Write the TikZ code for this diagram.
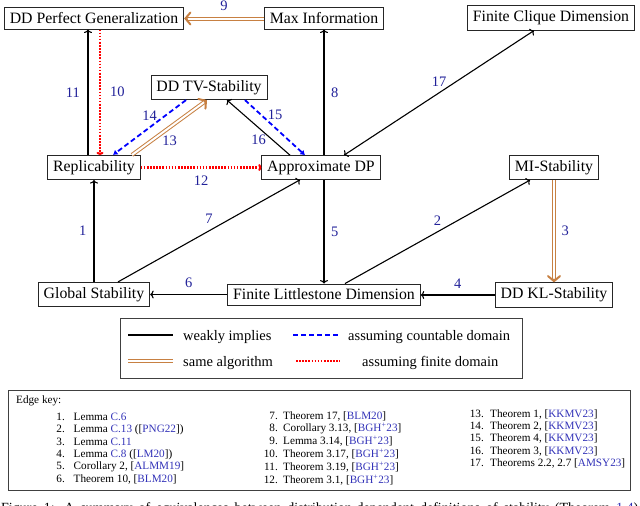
\documentclass[tikz,border=0pt]{standalone}
\usepackage{fontspec}
\setmainfont{Liberation Serif}
\usetikzlibrary{arrows.meta,calc}
\definecolor{lblue}{rgb}{0.13,0.13,0.6}
\definecolor{cblue}{rgb}{0.2,0.2,0.72}
\definecolor{tanc}{rgb}{0.78,0.5,0.26}
\newcommand{\cb}[1]{\textcolor{cblue}{#1}}
\begin{document}
\begin{tikzpicture}[x=1pt,y=-1pt,
  box/.style={draw=black!85, line width=0.8pt, inner xsep=5.5pt, inner ysep=5pt, font=\fontsize{15.8}{18}\selectfont},
  lbl/.style={inner sep=0pt, text=lblue, font=\fontsize{14.5}{16}\selectfont},
  imp/.style={line width=1.1pt, -{To[length=3.5pt,width=8pt]}},
  bimp/.style={line width=1.1pt, {To[length=3.5pt,width=8pt]}-{To[length=3.5pt,width=8pt]}},
  samealg/.style={draw=tanc, double=white, line width=1pt, double distance=2pt},
  samearr/.style={samealg, shorten >=1.5pt},
  brtip/.style={draw=tanc, line width=2pt, line cap=round, -{Straight Barb[length=5pt,width=12pt,line cap=round]}},
  cntbl/.style={draw=blue, line width=1.8pt, dash pattern=on 5pt off 3pt},
  cntarr/.style={cntbl, -{Latex[length=4.5pt,width=6pt]}},
  fin/.style={draw=red, line width=2.1pt, dash pattern=on 1.6pt off 1.5pt},
  finarr/.style={fin, -{To[length=3pt,width=7pt]}},
  legtxt/.style={inner sep=0pt, anchor=base west, font=\fontsize{14.5}{16}\selectfont},
  keyf/.style={inner sep=0pt, font=\fontsize{11.2}{12}\selectfont}
]
\useasboundingbox (0,0) rectangle (640,506);

% nodes
\node[box] (ddpg) at (94,18.5) {DD Perfect Generalization};
\node[box] (mxi) at (324,18.5) {Max Information};
\node[box] (fcd) at (551,18) {Finite Clique Dimension};
\node[box] (tv) at (209,87.5) {DD TV-Stability};
\node[box] (rep) at (94,167.5) {Replicability};
\node[box] (apdp) at (321,167.5) {Approximate DP};
\node[box] (mi) at (554,167.5) {MI-Stability};
\node[box] (gs) at (94,294.5) {Global Stability};
\node[box] (fld) at (324,294.5) {Finite Littlestone Dimension};
\node[box] (kl) at (554,295) {DD KL-Stability};

% edges
\draw[imp] (gs.north) -- (rep.south) node[lbl, midway, left=7pt] {1};
\draw[imp] ([xshift=21pt]fld.north) -- ([xshift=-24pt]mi.south) node[lbl, midway, above=6pt] {2};
\draw[samearr] (mi.south) -- (kl.north) node[lbl, midway, right=7pt] {3};
\draw[brtip] ($(kl.north)!3pt!(mi.south)$) -- (kl.north);
\draw[imp] (kl.west) -- (kl.west -| fld.east) node[lbl, midway, above=6pt] {4};
\draw[imp] (apdp.south -| fld.north) -- (fld.north) node[lbl, midway, right=6.5pt] {5};
\draw[imp] (fld.west) -- (fld.west -| gs.east) node[lbl, midway, above=6pt] {6};
\draw[imp] ([xshift=24pt]gs.north) -- ([xshift=-21pt]apdp.south) node[lbl, midway, above=7pt] {7};
\draw[imp] (apdp.north -| mxi.south) -- (mxi.south) node[lbl, midway, right=6.5pt] {8};
\draw[samearr] (mxi.west) -- (ddpg.east) node[lbl, midway, above=7pt] {9};
\draw[brtip] ($(ddpg.east)!3pt!(mxi.west)$) -- (ddpg.east);
\draw[finarr] ([xshift=6pt]ddpg.south) -- ([xshift=6pt]rep.north) node[lbl, midway, right=9pt] {10};
\draw[imp] ([xshift=-6pt]rep.north) -- ([xshift=-6pt]ddpg.south) node[lbl, midway, left=7.5pt] {11};
\draw[finarr] (rep.east) -- (apdp.west) node[lbl, midway, below=7pt] {12};
\draw[samearr] ([xshift=38pt]rep.north) -- ([xshift=-2pt]tv.south) node[lbl, midway, below=7.5pt] {13};
\draw[brtip] ($([xshift=-2pt]tv.south)!3pt!([xshift=38pt]rep.north)$) -- ([xshift=-2pt]tv.south);
\draw[cntarr] ([xshift=-23pt]tv.south) -- ([xshift=19pt]rep.north) node[lbl, midway, above=6pt] {14};
\draw[cntarr] ([xshift=36pt]tv.south) -- ([xshift=-16pt]apdp.north) node[lbl, midway, above=7.5pt] {15};
\draw[imp] ([xshift=-31pt]apdp.north) -- ([xshift=18pt]tv.south) node[lbl, midway, below=6.5pt] {16};
\draw[bimp] ([xshift=-17pt]fcd.south) -- ([xshift=23pt]apdp.north) node[lbl, midway, above=6pt] {17};

% legend
\node[draw=black!75, line width=0.8pt, minimum width=402pt, minimum height=60pt, inner sep=0pt] (leg) at (321,348) {};
\coordinate (l1a) at (128,335); \coordinate (l1b) at (173,335);
\coordinate (l2a) at (293,335); \coordinate (l2b) at (339,335);
\coordinate (l3a) at (128,361); \coordinate (l3b) at (173,361);
\coordinate (l4a) at (296,361); \coordinate (l4b) at (340,361);
\draw[line width=1.1pt] (l1a) -- (l1b);
\draw[cntbl] (l2a) -- (l2b);
\draw[samealg] (l3a) -- (l3b);
\draw[fin] (l4a) -- (l4b);
\node[legtxt] (t1) at (183,340) {weakly implies};
\node[legtxt] (t2) at (348,340) {assuming countable domain};
\node[legtxt] (t3) at (183,366) {same algorithm};
\node[legtxt] (t4) at (362,366) {assuming finite domain};

% edge key
\node[draw=black!75, line width=0.8pt, minimum width=622pt, minimum height=100pt, inner sep=0pt] (key) at (319,440) {};
\node[keyf, anchor=base west] (keyh) at (16,403.5) {Edge key:};
\foreach \n/\t [count=\i] in {1/{Lemma \cb{C.6}}, 2/{Lemma \cb{C.13} ([\cb{PNG22}])}, 3/{Lemma \cb{C.11}}, 4/{Lemma \cb{C.8} ([\cb{LM20}])}, 5/{Corollary 2, [\cb{ALMM19}]}, 6/{Theorem 10, [\cb{BLM20}]}}{
  \node[keyf, anchor=base east] (kn\n) at (65,{420.5+(\i-1)*12.3}) {\n.};
  \node[keyf, anchor=base west] (kt\n) at (73.5,{420.5+(\i-1)*12.3}) {\t};
}
\foreach \n/\t [count=\i] in {7/{Theorem 17, [\cb{BLM20}]}, 8/{Corollary 3.13, [\cb{BGH\textsuperscript{+}23}]}, 9/{Lemma 3.14, [\cb{BGH\textsuperscript{+}23}]}, 10/{Theorem 3.17, [\cb{BGH\textsuperscript{+}23}]}, 11/{Theorem 3.19, [\cb{BGH\textsuperscript{+}23}]}, 12/{Theorem 3.1, [\cb{BGH\textsuperscript{+}23}]}}{
  \node[keyf, anchor=base east] (kn\n) at (278,{419+(\i-1)*12.8}) {\n.};
  \node[keyf, anchor=base west] (kt\n) at (283,{419+(\i-1)*12.8}) {\t};
}
\foreach \n/\t [count=\i] in {13/{Theorem 1, [\cb{KKMV23}]}, 14/{Theorem 2, [\cb{KKMV23}]}, 15/{Theorem 4, [\cb{KKMV23}]}, 16/{Theorem 3, [\cb{KKMV23}]}, 17/{Theorems 2.2, 2.7 [\cb{AMSY23}]}}{
  \node[keyf, anchor=base east] (kn\n) at (484,{417.5+(\i-1)*12.2}) {\n.};
  \node[keyf, anchor=base west] (kt\n) at (490,{417.5+(\i-1)*12.2}) {\t};
}

% caption (cut off at the bottom edge, as in the reference)
\begin{scope}
\clip (0,0) rectangle (640,506);
\node[inner sep=0pt, anchor=base west, font=\fontsize{14}{16}\selectfont] (cap) at (1,512) {\makebox[637pt][s]{Figure 1: A summary of equivalences between distribution-dependent definitions of stability (Theorem \cb{1.4})}};
\end{scope}
\end{tikzpicture}
\end{document}
